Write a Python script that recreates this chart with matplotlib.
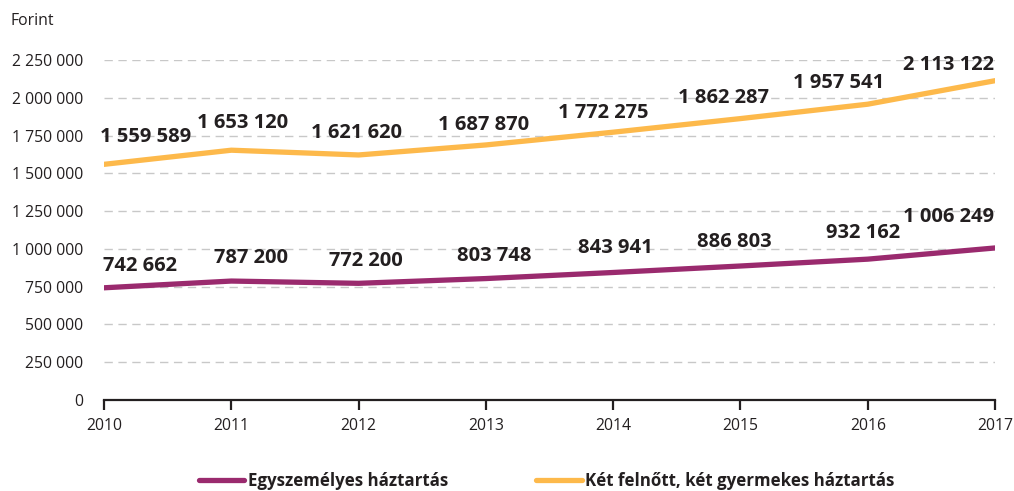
import numpy as np
import matplotlib
matplotlib.use("Agg")
import matplotlib.pyplot as plt
from matplotlib.ticker import FuncFormatter

plt.rcParams['font.family'] = ['Open Sans', 'DejaVu Sans']

# data
years = [2010, 2011, 2012, 2013, 2014, 2015, 2016, 2017]
egyszemelyes = [742662, 787200, 772200, 803748, 843941, 886803, 932162, 1006249]
ket_felnott = [1559589, 1653120, 1621620, 1687870, 1772275, 1862287, 1957541, 2113122]
series_names = ["Egyszemélyes háztartás", "Két felnőtt, két gyermekes háztartás"]
yticks = np.arange(0, 2250001, 250000)

purple = "#9A2A6E"
yellow = "#FDB94B"
txt = "#231F20"

def fmt(v):
    return f"{int(v):,}".replace(",", " ")

fig = plt.figure(figsize=(10.14, 4.91), dpi=100)
ax = fig.add_axes([0.1026, 0.1853, 0.8787, 0.6925])

ax.plot(years, egyszemelyes, color=purple, lw=3.8, solid_capstyle='round', label=series_names[0], zorder=3)
ax.plot(years, ket_felnott, color=yellow, lw=3.8, solid_capstyle='round', label=series_names[1], zorder=3)

# label offsets in pixels and alignment
has = ['left'] + ['center'] * 6 + ['right']
off_y = [(-4, 27), (11, 27), (-2, 22), (-2, 20), (-10, 19), (-17, 21), (-29, 21), (-1, 16)]
off_p = [(-1, 22), (20, 23), (7, 22), (8, 23), (2, 24), (-6, 24), (-5, 26), (-1, 31)]
for i, yr in enumerate(years):
    ax.annotate(fmt(ket_felnott[i]), (yr, ket_felnott[i]), xytext=off_y[i], textcoords='offset pixels',
                ha=has[i], va='center', fontsize=14.5, fontweight='bold', color=txt)
    ax.annotate(fmt(egyszemelyes[i]), (yr, egyszemelyes[i]), xytext=off_p[i], textcoords='offset pixels',
                ha=has[i], va='center', fontsize=14.5, fontweight='bold', color=txt)

ax.set_xlim(2010, 2017)
ax.set_ylim(0, 2250000)
ax.set_xticks(years)
ax.set_yticks(yticks)
ax.yaxis.set_major_formatter(FuncFormatter(lambda v, p: fmt(v)))
ax.grid(axis='y', color='#C8C8C8', lw=1, ls=(0, (6, 4)))
ax.set_axisbelow(True)

for s in ['left', 'right', 'top']:
    ax.spines[s].set_visible(False)
ax.spines['bottom'].set_linewidth(1.6)
ax.spines['bottom'].set_color(txt)
ax.tick_params(axis='y', length=0, pad=15, labelsize=11.3, labelcolor=txt)
ax.tick_params(axis='x', length=7, width=1.6, color=txt, direction='out', pad=6, labelsize=11.3, labelcolor=txt)

fig.text(0.01, 0.957, "Forint", fontsize=11.3, color=txt, va='center')

leg = fig.legend(loc='center', bbox_to_anchor=(0.539, 0.02), ncol=2, frameon=False,
                 handlelength=2.7, handletextpad=0.2, columnspacing=5.2,
                 prop={'size': 12.2, 'weight': 'bold'})
for t in leg.get_texts():
    t.set_color(txt)

fig.savefig("out.png", dpi=100)
